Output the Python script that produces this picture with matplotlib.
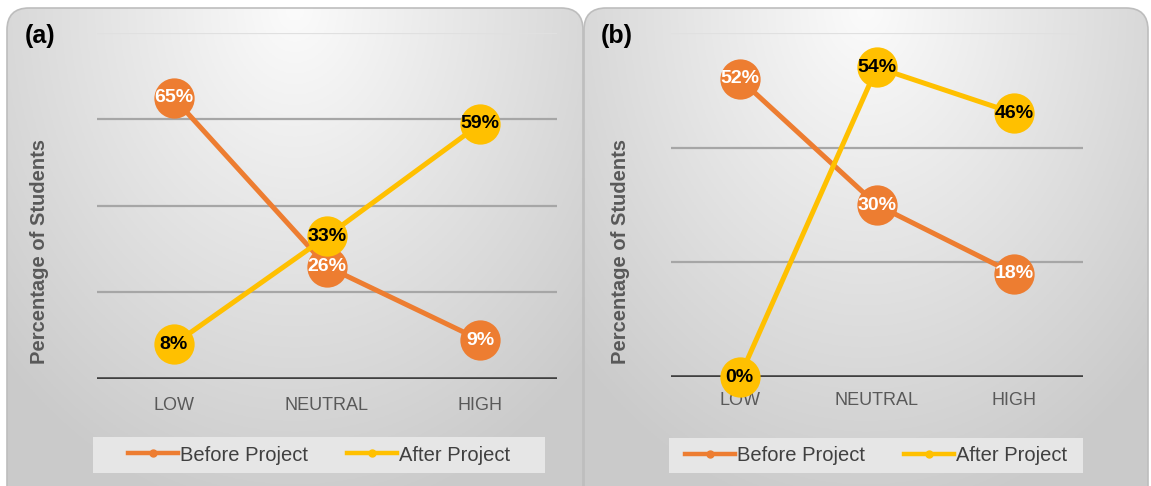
import matplotlib.pyplot as plt
import numpy as np
from matplotlib.patches import FancyBboxPatch, Rectangle
from matplotlib.lines import Line2D

categories = ['LOW', 'NEUTRAL', 'HIGH']
before_a = [65, 26, 9]
after_a = [8, 33, 59]
before_b = [52, 30, 18]
after_b = [0, 54, 46]
ymax_a = 80
ymax_b = 60
ystep = 20
series_names = ['Before Project', 'After Project']

ORANGE = '#ED7D31'
GOLD = '#FFC000'
GREY_TXT = '#595959'

plt.rcParams['font.family'] = ['Liberation Sans', 'DejaVu Sans']

W, H = 1151, 486
fig = plt.figure(figsize=(W / 100, H / 100), dpi=100)

# background layer in pixel coords (y down)
bg = fig.add_axes([0, 0, 1, 1])
bg.axis('off')


def panel_bg(x0, x1):
    y0, y1 = 8, 520
    xx, yy = np.meshgrid(np.linspace(0, 1, 200), np.linspace(0, 1, 200))
    d = np.sqrt(((xx - 0.5) / 0.7) ** 2 + (yy / 1.0) ** 2)
    d = np.clip(d, 0, 1)
    v = 0.985 - 0.19 * d
    img = np.dstack([v, v, v])
    box = FancyBboxPatch((x0, y0), x1 - x0, y1 - y0,
                         boxstyle='round,pad=0,rounding_size=22',
                         fc='none', ec='#bdbdbd', lw=1.2, zorder=2)
    bg.add_patch(box)
    im = bg.imshow(img, extent=(x0, x1, y1, y0), aspect='auto', zorder=0)
    im.set_clip_path(box)


panel_bg(7, 583)
panel_bg(584, 1148)
bg.set_xlim(0, W)
bg.set_ylim(H, 0)


def fx(px):
    return px / W


def fy(py):
    return 1 - py / H


def draw(px_left, px_right, px_top, px_base, before, after, ymax, tag, tag_x,
         ylab_x, leg_box, tick_pad):
    ax = fig.add_axes([fx(px_left), fy(px_base), fx(px_right - px_left),
                       (px_base - px_top) / H])
    ax.patch.set_alpha(0)
    x = np.arange(len(categories))
    ax.set_xlim(-0.5, len(categories) - 0.5)
    ax.set_ylim(0, ymax)
    for v in np.arange(ystep, ymax + 1, ystep):
        ax.axhline(v, color='#a6a6a6' if v < ymax else '#e0e0e0', lw=1.6, zorder=1)
    ax.axhline(0, color='#404040', lw=2.6, zorder=2)

    ax.plot(x, before, color=ORANGE, lw=3.6, marker='o', ms=29, mew=0,
            zorder=3, clip_on=False)
    for xi, v in zip(x, before):
        ax.text(xi, v, f'{v}%', ha='center', va='center', color='white',
                fontsize=14, fontweight='bold', zorder=4)
    ax.plot(x, after, color=GOLD, lw=3.6, marker='o', ms=29, mew=0,
            zorder=5, clip_on=False)
    for xi, v in zip(x, after):
        ax.text(xi, v, f'{v}%', ha='center', va='center', color='black',
                fontsize=14, fontweight='bold', zorder=6)

    for s in ax.spines.values():
        s.set_visible(False)
    ax.set_yticks([])
    ax.set_xticks(x)
    ax.set_xticklabels(categories, fontsize=13, color=GREY_TXT)
    ax.tick_params(axis='x', length=0, pad=tick_pad)

    fig.text(fx(tag_x), fy(36), tag, ha='left', va='center', fontsize=18,
             fontweight='bold', color='black')
    fig.text(fx(ylab_x), fy(251), 'Percentage of Students', rotation=90,
             ha='center', va='center', fontsize=14.5, fontweight='bold',
             color=GREY_TXT)

    lx0, ly0, lx1, ly1 = leg_box
    bg.add_patch(Rectangle((lx0, ly0), lx1 - lx0, ly1 - ly0, fc='#e6e6e6',
                           ec='none', zorder=1))
    handles = [Line2D([], [], color=ORANGE, lw=3.2, marker='o', ms=5),
               Line2D([], [], color=GOLD, lw=3.2, marker='o', ms=5)]
    ax.legend(handles, series_names, loc='center',
              bbox_to_anchor=(fx((lx0 + lx1) / 2), fy((ly0 + ly1) / 2)),
              bbox_transform=fig.transFigure, frameon=False, ncol=2,
              fontsize=14.5, handlelength=2.5, handletextpad=0.1,
              columnspacing=1.9, labelcolor='#404040')
    return ax


draw(97, 557, 33, 379, before_a, after_a, ymax_a, '(a)', 25, 40,
     (93, 437, 545, 473), 13)
draw(671, 1083, 33, 377, before_b, after_b, ymax_b, '(b)', 601, 620,
     (669, 438, 1083, 473), 11)

fig.savefig('out.png', dpi=100)
